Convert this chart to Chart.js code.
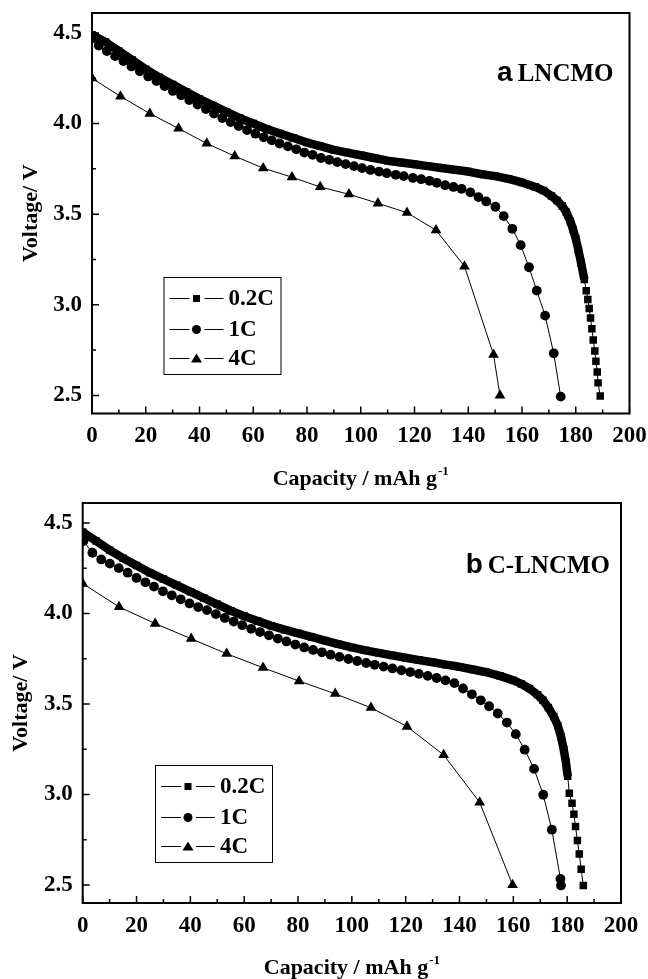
<!DOCTYPE html>
<html>
<head>
<meta charset="utf-8">
<script src="https://cdn.jsdelivr.net/npm/chart.js@4.4.0/dist/chart.umd.min.js"></script>
<style>
  html, body { margin: 0; padding: 0; background: #fff; }
  #wrap { position: relative; width: 648px; height: 979px; }
  canvas { position: absolute; left: 0; }
</style>
</head>
<body>
<div id="wrap">
  <canvas id="chartA" width="648" height="490" style="top:0px"></canvas>
  <canvas id="chartB" width="648" height="489" style="top:490px"></canvas>
</div>
<script>
const SERIF = '"Liberation Serif", "Times New Roman", serif';

// axis ticks, shared by both panels
const xMajor = [0, 20, 40, 60, 80, 100, 120, 140, 160, 180, 200];
const xMinor = [10, 30, 50, 70, 90, 110, 130, 150, 170, 190];
const yMajor = [2.5, 3.0, 3.5, 4.0, 4.5];
const yMinor = [2.75, 3.25, 3.75, 4.25];
const rateLabels = ['0.2C', '1C', '4C'];

// panel a - LNCMO
const aCap02 = [0, 5, 10, 15, 20, 25, 30, 35, 40, 45, 50, 55, 60, 65, 70, 75, 80, 85, 90, 95,
  100, 105, 110, 115, 120, 125, 130, 135, 140, 145, 150, 155, 160, 165, 168, 171, 173, 175, 176.5, 178,
  179, 180, 181, 182, 183.2, 183.9, 184.5, 185.0, 185.5, 186.0, 186.5, 187.1, 187.5, 188.0, 188.3, 189.1];
const aVolt02 = [4.49, 4.45, 4.40, 4.35, 4.30, 4.255, 4.215, 4.175, 4.135, 4.10, 4.065, 4.03, 4.00, 3.97, 3.945, 3.92, 3.895, 3.875, 3.855, 3.84,
  3.825, 3.81, 3.795, 3.785, 3.775, 3.765, 3.755, 3.745, 3.735, 3.72, 3.71, 3.695, 3.675, 3.65, 3.63, 3.60, 3.575, 3.545, 3.51, 3.46,
  3.415, 3.365, 3.30, 3.23, 3.14, 3.078, 3.029, 2.979, 2.927, 2.868, 2.806, 2.745, 2.688, 2.629, 2.569, 2.497];
const aCap1 = [0.3, 2.5, 5.5, 8.6, 11.7, 14.7, 17.8, 20.9, 24.0, 27.0, 30.1, 33.2, 36.2, 39.3, 42.4, 45.4, 48.5, 51.6, 54.6, 57.7,
  60.8, 63.9, 66.9, 69.8, 72.9, 76.0, 79.0, 82.1, 85.2, 88.3, 91.3, 94.4, 97.5, 100.5, 103.6, 106.8, 109.7, 113.0, 116.0, 119.4,
  122.5, 125.6, 128.3, 131.4, 134.5, 137.5, 140.8, 143.8, 146.7, 150.1, 153.2, 156.4, 159.5, 162.6, 165.5, 168.6, 171.8, 174.4];
const aVolt1 = [4.47, 4.43, 4.40, 4.372, 4.345, 4.315, 4.288, 4.26, 4.235, 4.207, 4.18, 4.156, 4.13, 4.105, 4.08, 4.055, 4.03, 4.008, 3.986, 3.964,
  3.944, 3.924, 3.907, 3.89, 3.874, 3.858, 3.84, 3.827, 3.81, 3.80, 3.787, 3.776, 3.765, 3.754, 3.744, 3.735, 3.726, 3.717, 3.71, 3.70,
  3.693, 3.684, 3.673, 3.66, 3.65, 3.64, 3.62, 3.594, 3.57, 3.541, 3.489, 3.419, 3.329, 3.207, 3.078, 2.94, 2.732, 2.493];
const aCap4 = [0, 10.6, 21.5, 32.2, 42.7, 53.1, 63.7, 74.4, 84.9, 95.6, 106.4, 117.2, 128.0, 138.6, 149.4, 151.8];
const aVolt4 = [4.25, 4.15, 4.055, 3.973, 3.89, 3.82, 3.754, 3.704, 3.65, 3.61, 3.56, 3.508, 3.412, 3.212, 2.725, 2.50];

// panel b - C-LNCMO
const bCap02 = [0, 5, 10, 15, 20, 25, 30, 35, 40, 45, 50, 55, 60, 65, 70, 75, 80, 85, 90, 95,
  100, 105, 110, 115, 120, 125, 130, 135, 140, 145, 150, 155, 160, 163, 166, 169, 171, 173, 175, 176.5,
  177.7, 178.7, 179.5, 180.2, 180.8, 181.8, 182.5, 183.1, 183.8, 184.5, 185.2, 186.0];
const bVolt02 = [4.45, 4.40, 4.35, 4.305, 4.265, 4.225, 4.19, 4.155, 4.12, 4.085, 4.05, 4.015, 3.985, 3.958, 3.932, 3.91, 3.89, 3.87, 3.85, 3.83,
  3.812, 3.796, 3.782, 3.768, 3.755, 3.742, 3.73, 3.717, 3.705, 3.69, 3.675, 3.655, 3.63, 3.61, 3.585, 3.55, 3.52, 3.48, 3.43, 3.38,
  3.32, 3.25, 3.18, 3.10, 3.006, 2.951, 2.890, 2.822, 2.745, 2.671, 2.587, 2.497];
const bCap1 = [0.3, 3.6, 6.9, 10.1, 13.4, 16.7, 20.0, 23.3, 26.5, 29.8, 33.1, 36.4, 39.7, 42.9, 46.2, 49.5, 52.8, 56.1, 59.3, 62.6,
  65.9, 69.2, 72.5, 75.7, 79.0, 82.3, 85.6, 88.9, 92.1, 95.4, 98.7, 102.0, 105.3, 108.5, 111.8, 115.1, 118.4, 121.7, 124.9, 128.2,
  131.5, 134.8, 138.1, 141.3, 144.6, 147.9, 151.0, 154.2, 157.6, 160.9, 164.2, 167.7, 171.1, 174.3, 177.5, 177.7];
const bVolt1 = [4.40, 4.335, 4.298, 4.275, 4.25, 4.225, 4.196, 4.172, 4.148, 4.122, 4.10, 4.078, 4.055, 4.035, 4.018, 3.996, 3.975, 3.955, 3.935, 3.915,
  3.897, 3.879, 3.861, 3.845, 3.828, 3.812, 3.798, 3.785, 3.772, 3.76, 3.748, 3.737, 3.726, 3.716, 3.706, 3.696, 3.686, 3.676, 3.666, 3.655,
  3.643, 3.63, 3.615, 3.585, 3.553, 3.52, 3.487, 3.447, 3.397, 3.333, 3.247, 3.141, 2.998, 2.805, 2.533, 2.497];
const bCap4 = [0, 13.5, 26.9, 40.3, 53.5, 67.0, 80.4, 93.8, 107.1, 120.5, 134.1, 147.5, 159.7];
const bVolt4 = [4.165, 4.036, 3.944, 3.86, 3.777, 3.70, 3.626, 3.556, 3.479, 3.375, 3.218, 2.956, 2.50];

function pts(xs, ys) {
  return xs.map((x, i) => ({ x: x, y: ys[i] }));
}

// small marker used in the legend box
function marker(ctx, style, x, y) {
  ctx.beginPath();
  if (style === 'rect') {
    ctx.rect(x - 3.5, y - 3.5, 7, 7);
  } else if (style === 'circle') {
    ctx.arc(x, y, 4.5, 0, Math.PI * 2);
  } else {
    ctx.moveTo(x, y - 5);
    ctx.lineTo(x + 5.5, y + 4);
    ctx.lineTo(x - 5.5, y + 4);
    ctx.closePath();
  }
  ctx.fill();
}

// boxed frame, inward ticks, axis titles, legend box and panel tag
const framePlugin = {
  id: 'frame',
  afterDatasetsDraw(chart, args, opts) {
    const ctx = chart.ctx;
    const area = chart.chartArea;
    const sx = chart.scales.x;
    const sy = chart.scales.y;
    ctx.save();
    ctx.strokeStyle = '#000';
    ctx.fillStyle = '#000';

    // ticks pointing into the plot
    ctx.lineWidth = 1.5;
    ctx.beginPath();
    yMajor.forEach(v => { const p = sy.getPixelForValue(v); ctx.moveTo(area.left, p); ctx.lineTo(area.left + 7, p); });
    yMinor.forEach(v => { const p = sy.getPixelForValue(v); ctx.moveTo(area.left, p); ctx.lineTo(area.left + 4, p); });
    xMajor.forEach(v => { const p = sx.getPixelForValue(v); ctx.moveTo(p, area.bottom); ctx.lineTo(p, area.bottom - 7); });
    xMinor.forEach(v => { const p = sx.getPixelForValue(v); ctx.moveTo(p, area.bottom); ctx.lineTo(p, area.bottom - 4); });
    ctx.stroke();

    ctx.lineWidth = 2;
    ctx.strokeRect(area.left, area.top, area.right - area.left, area.bottom - area.top);

    // y title
    ctx.save();
    ctx.font = 'bold 22px ' + SERIF;
    ctx.textAlign = 'center';
    ctx.textBaseline = 'middle';
    ctx.translate(area.left - 61, (area.top + area.bottom) / 2);
    ctx.rotate(-Math.PI / 2);
    ctx.fillText('Voltage/ V', 0, 0);
    ctx.restore();

    // x title with superscript
    const main = 'Capacity / mAh g';
    const sup = '-1';
    ctx.font = 'bold 22px ' + SERIF;
    const w1 = ctx.measureText(main).width;
    ctx.font = 'bold 13px ' + SERIF;
    const w2 = ctx.measureText(sup).width;
    const x0 = (area.left + area.right) / 2 - (w1 + w2 + 1) / 2;
    const base = area.bottom + 71;
    ctx.textAlign = 'left';
    ctx.textBaseline = 'alphabetic';
    ctx.font = 'bold 22px ' + SERIF;
    ctx.fillText(main, x0, base);
    ctx.font = 'bold 13px ' + SERIF;
    ctx.fillText(sup, x0 + w1 + 1, base - 10);

    // legend box
    const lx = area.left + opts.legendDx;
    const ly = area.top + opts.legendDy;
    ctx.lineWidth = 1;
    ctx.strokeRect(lx + 0.5, ly + 0.5, 117, 97);
    const rows = [21, 52, 81];
    ctx.font = 'bold 23px ' + SERIF;
    ctx.textBaseline = 'middle';
    chart.data.datasets.forEach((ds, i) => {
      const y = ly + rows[i] + 0.5;
      ctx.beginPath();
      ctx.moveTo(lx + 6, y); ctx.lineTo(lx + 26, y);
      ctx.moveTo(lx + 41, y); ctx.lineTo(lx + 60, y);
      ctx.stroke();
      marker(ctx, ds.pointStyle, lx + 33, y);
      ctx.fillText(rateLabels[i], lx + 65, y + 1);
    });

    // panel tag, e.g. "a LNCMO"
    ctx.textBaseline = 'alphabetic';
    ctx.textAlign = 'right';
    ctx.font = 'bold 25px ' + SERIF;
    const tx = area.right - opts.tagRight;
    const ty = area.top + opts.tagDy;
    ctx.fillText(opts.name, tx, ty);
    const nw = ctx.measureText(opts.name).width;
    ctx.font = 'bold 28px "Liberation Sans", Arial, sans-serif';
    ctx.fillText(opts.tag, tx - nw - 5, ty);

    ctx.restore();
  }
};

function buildChart(id, d02, d1, d4, bandEnd, geo, tagOpts) {
  const tickFont = { family: SERIF, size: 23, weight: 'bold' };
  return new Chart(document.getElementById(id), {
    type: 'scatter',
    data: {
      datasets: [
        {
          label: rateLabels[0], data: d02, showLine: true,
          borderColor: '#000', backgroundColor: '#000',
          pointStyle: 'rect', pointRadius: 5.3, pointBorderWidth: 0,
          borderWidth: 1, borderJoinStyle: 'round',
          // the slow-rate curve is so dense it reads as a solid band until the knee
          segment: { borderWidth: c => (c.p1DataIndex <= bandEnd ? 8.5 : 1) }
        },
        {
          label: rateLabels[1], data: d1, showLine: true,
          borderColor: '#000', backgroundColor: '#000',
          pointStyle: 'circle', pointRadius: 4.9, pointBorderWidth: 0, borderWidth: 1
        },
        {
          label: rateLabels[2], data: d4, showLine: true,
          borderColor: '#000', backgroundColor: '#000',
          pointStyle: 'triangle', pointRadius: 6.2, pointBorderWidth: 0, borderWidth: 1
        }
      ]
    },
    options: {
      responsive: false,
      animation: false,
      events: [],
      layout: { padding: { top: geo.top, right: geo.right, left: 0, bottom: 0 } },
      plugins: {
        legend: { display: false },
        tooltip: { enabled: false },
        frame: tagOpts
      },
      scales: {
        x: {
          type: 'linear', min: 0, max: 200,
          afterBuildTicks: s => { s.ticks = xMajor.map(v => ({ value: v })); },
          afterFit: s => { s.height = geo.xHeight; s.paddingLeft = 0; s.paddingRight = 0; },
          grid: { display: false, drawTicks: false },
          border: { display: false },
          ticks: { font: tickFont, color: '#000', padding: 9, maxRotation: 0, autoSkip: false }
        },
        y: {
          type: 'linear', min: 2.4, max: 4.61,
          afterBuildTicks: s => { s.ticks = yMajor.map(v => ({ value: v })); },
          afterFit: s => { s.width = geo.left; s.paddingTop = 0; s.paddingBottom = 0; },
          grid: { display: false, drawTicks: false },
          border: { display: false },
          ticks: { font: tickFont, color: '#000', padding: 10, callback: v => v.toFixed(1) }
        }
      }
    },
    plugins: [framePlugin]
  });
}

buildChart('chartA', pts(aCap02, aVolt02), pts(aCap1, aVolt1), pts(aCap4, aVolt4), 44,
  { left: 92, right: 18.5, top: 13, xHeight: 76.5 },
  { legendDx: 71.5, legendDy: 264, tag: 'a', name: 'LNCMO', tagRight: 16, tagDy: 68 });

buildChart('chartB', pts(bCap02, bVolt02), pts(bCap1, bVolt1), pts(bCap4, bVolt4), 43,
  { left: 82.7, right: 27, top: 13, xHeight: 76 },
  { legendDx: 72.3, legendDy: 262, tag: 'b', name: 'C-LNCMO', tagRight: 11, tagDy: 70 });
</script>
</body>
</html>
